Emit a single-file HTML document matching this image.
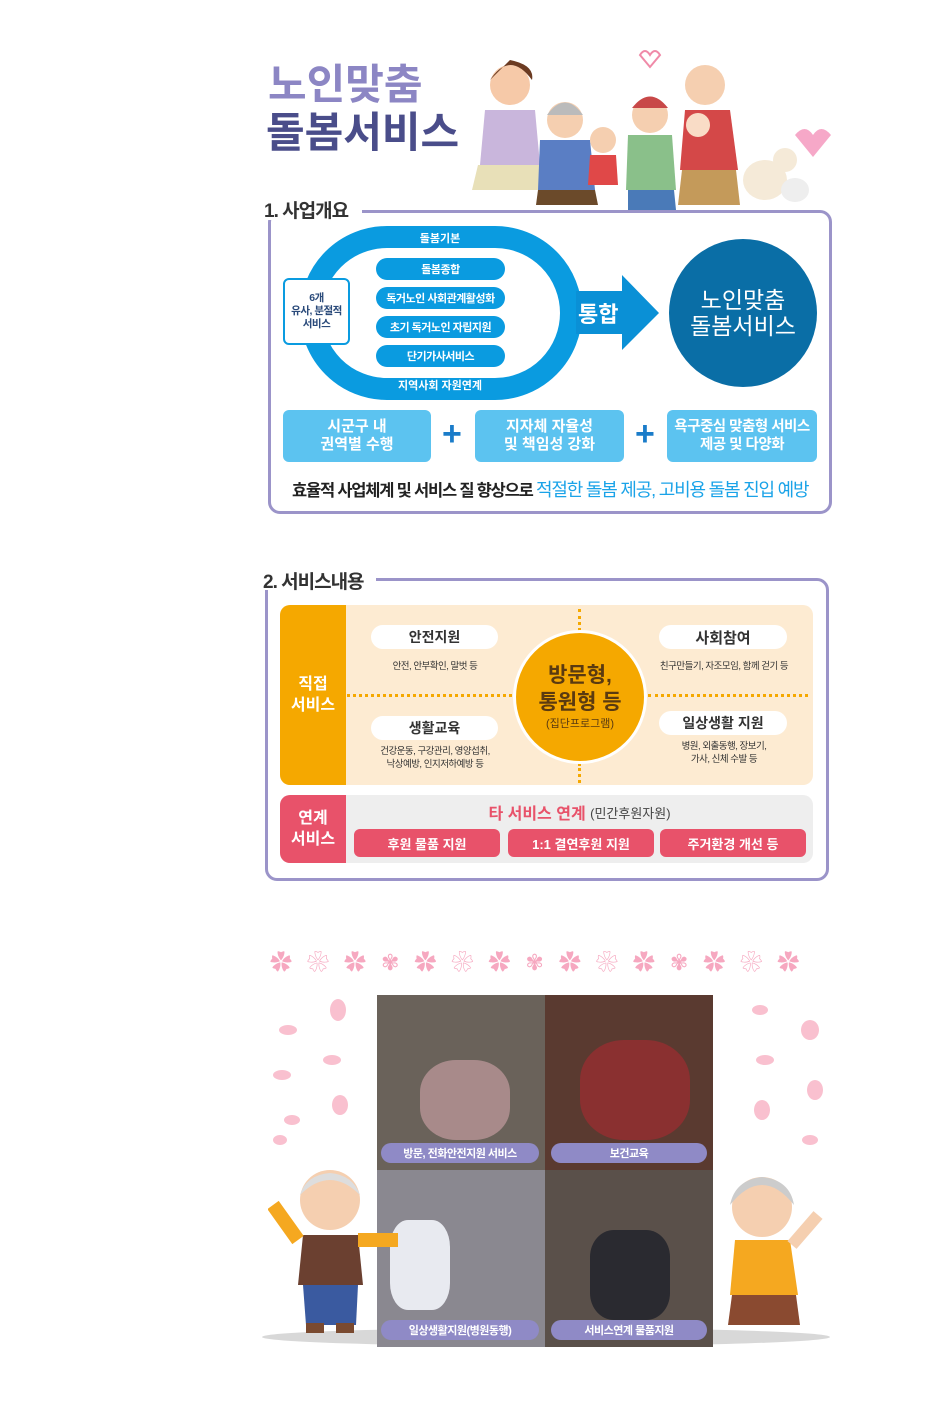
<!DOCTYPE html>
<html><head><meta charset="utf-8"><style>
*{margin:0;padding:0;box-sizing:border-box}
body{width:930px;height:1408px;background:#fff;position:relative;overflow:hidden;font-family:"Liberation Sans","Noto Sans CJK KR",sans-serif}
.a{position:absolute}
.c{display:flex;align-items:center;justify-content:center;text-align:center}
.pill{position:absolute;background:#0a9be0;color:#fff;border-radius:12px;font-size:11px;font-weight:bold;display:flex;align-items:center;justify-content:center;letter-spacing:-0.5px}
.bb{position:absolute;background:#5cc3f0;color:#fff;border-radius:6px;font-size:15px;font-weight:bold;line-height:18px;display:flex;align-items:center;justify-content:center;text-align:center}
.plus{position:absolute;color:#1a7cc9;font-size:34px;font-weight:bold}
.wp{position:absolute;background:#fff;border-radius:12px;font-size:14px;color:#333;font-weight:bold;display:flex;align-items:center;justify-content:center}
.sm{position:absolute;font-size:9.5px;color:#333;text-align:center;line-height:13px;letter-spacing:-0.5px}
.rb{position:absolute;background:#e8526a;color:#fff;border-radius:6px;font-size:13px;font-weight:bold;display:flex;align-items:center;justify-content:center;top:829px;height:28px}
.cap{position:absolute;background:#8f8ac6;color:#fff;border-radius:10px;font-size:11px;font-weight:bold;display:flex;align-items:center;justify-content:center;height:20px;letter-spacing:-0.5px}
</style></head><body>

<!-- header -->
<div class="a" style="left:268px;top:60px;font-size:42px;font-weight:bold;color:#8c86c4;line-height:50px">노인맞춤</div>
<div class="a" style="left:266px;top:108px;font-size:42px;font-weight:bold;color:#4a4d8a;line-height:50px">돌봄서비스</div>
<svg class="a" style="left:440px;top:40px" width="400" height="170">
<circle cx="70" cy="45" r="20" fill="#f6c9a8"/><path d="M50 40 Q70 10 92 40 Q95 25 70 20Z" fill="#6b3b22"/>
<path d="M45 70 L95 70 L100 125 L40 125Z" fill="#c9b6dc"/><path d="M38 125 L102 125 L108 150 L32 150Z" fill="#e8e0b8"/>
<circle cx="125" cy="80" r="18" fill="#f5cfb0"/><path d="M107 75 Q125 50 143 75" fill="#bbb"/>
<path d="M100 100 L150 100 L155 150 L98 150Z" fill="#5a7ec4"/><path d="M98 150 L155 150 L158 165 L96 165Z" fill="#6b4a2a"/>
<circle cx="163" cy="100" r="13" fill="#f5cfb0"/><path d="M150 115 L176 115 L178 145 L148 145Z" fill="#e04848"/>
<circle cx="210" cy="75" r="18" fill="#f5cfb0"/><path d="M192 68 Q210 45 228 68Z" fill="#c84848"/>
<path d="M188 95 L232 95 L236 150 L186 150Z" fill="#8ac08a"/><path d="M188 150 L234 150 L236 170 L188 170Z" fill="#4a7ab8"/>
<circle cx="265" cy="45" r="20" fill="#f5cfb0"/><path d="M245 70 L290 70 L298 130 L240 130Z" fill="#d44848"/>
<path d="M242 130 L296 130 L300 165 L238 165Z" fill="#c49a5a"/><circle cx="258" cy="85" r="12" fill="#f9dcc6"/>
<ellipse cx="325" cy="140" rx="22" ry="20" fill="#f5ead8"/><circle cx="345" cy="120" r="12" fill="#f5ead8"/>
<ellipse cx="355" cy="150" rx="14" ry="12" fill="#eee"/>
<path d="M355 95 q10 -12 18 0 q8 -12 18 0 l-18 22z" fill="#f6a8c8"/>
<path d="M200 15 q5 -8 10 0 q5 -8 10 0 l-10 12z" fill="none" stroke="#f08aa8" stroke-width="2"/>
</svg>

<!-- Section 1 -->
<div class="a" style="left:268px;top:210px;width:564px;height:304px;border:3px solid #9b94c9;border-radius:12px"></div>
<div class="a" style="left:258px;top:196px;width:104px;height:24px;background:#fff"></div>
<div class="a" style="left:264px;top:196px;font-size:19px;font-weight:bold;color:#333;letter-spacing:-1px">1. 사업개요</div>
<div class="a" style="left:300px;top:226px;width:282px;height:174px;border:22px solid #0a9be0;border-radius:87px"></div>
<div class="a c" style="left:380px;top:230px;width:120px;font-size:11px;color:#fff;font-weight:bold">돌봄기본</div>
<div class="a c" style="left:370px;top:377px;width:140px;font-size:11px;color:#fff;font-weight:bold">지역사회 자원연계</div>
<div class="pill" style="left:376px;top:258px;width:129px;height:22px">돌봄종합</div>
<div class="pill" style="left:376px;top:287px;width:129px;height:22px">독거노인 사회관계활성화</div>
<div class="pill" style="left:376px;top:316px;width:129px;height:22px">초기 독거노인 자립지원</div>
<div class="pill" style="left:376px;top:345px;width:129px;height:22px">단기가사서비스</div>
<div class="a c" style="left:283px;top:278px;width:67px;height:67px;background:#fff;border:2.5px solid #0a9be0;border-radius:6px;font-size:10.5px;font-weight:bold;color:#2a4a7a;line-height:13px;letter-spacing:-0.5px">6개<br>유사, 분절적<br>서비스</div>
<svg class="a" style="left:576px;top:275px" width="86" height="76"><path d="M0 16 H46 V0 L83 38 L46 75 V59 H0Z" fill="#0a90d6"/></svg>
<div class="a" style="left:578px;top:297px;font-size:22px;font-weight:bold;color:#fff">통합</div>
<div class="a c" style="left:669px;top:239px;width:148px;height:148px;border-radius:50%;background:#0a6ea6;color:#fff;font-size:23px;line-height:26px">노인맞춤<br>돌봄서비스</div>
<div class="bb" style="left:283px;top:410px;width:148px;height:52px">시군구 내<br>권역별 수행</div>
<div class="plus" style="left:442px;top:415px">+</div>
<div class="bb" style="left:475px;top:410px;width:149px;height:52px">지자체 자율성<br>및 책임성 강화</div>
<div class="plus" style="left:635px;top:415px">+</div>
<div class="bb" style="left:667px;top:410px;width:150px;height:52px;font-size:14.5px;letter-spacing:-0.5px">욕구중심 맞춤형 서비스<br>제공 및 다양화</div>
<div class="a" style="left:292px;top:476px;font-size:16.5px;font-weight:bold;color:#222;letter-spacing:-1.2px;white-space:nowrap">효율적 사업체계 및 서비스 질 향상으로 <span style="color:#1aa3e8;font-weight:normal;font-size:18px">적절한 돌봄 제공, 고비용 돌봄 진입 예방</span></div>

<!-- Section 2 -->
<div class="a" style="left:265px;top:578px;width:564px;height:303px;border:3px solid #9b94c9;border-radius:12px"></div>
<div class="a" style="left:256px;top:566px;width:120px;height:24px;background:#fff"></div>
<div class="a" style="left:263px;top:567px;font-size:19px;font-weight:bold;color:#333;letter-spacing:-1px">2. 서비스내용</div>
<div class="a" style="left:280px;top:605px;width:533px;height:180px;background:#fdebd2;border-radius:10px"></div>
<div class="a c" style="left:280px;top:605px;width:66px;height:180px;background:#f5a800;border-radius:10px 0 0 10px;color:#fff;font-size:16px;font-weight:bold;line-height:21px">직접<br>서비스</div>
<div class="a" style="left:347px;top:694px;width:165px;border-top:3px dotted #f5a800"></div>
<div class="a" style="left:648px;top:694px;width:160px;border-top:3px dotted #f5a800"></div>
<div class="a" style="left:578px;top:609px;height:22px;border-left:3px dotted #f5a800"></div>
<div class="a" style="left:578px;top:763px;height:20px;border-left:3px dotted #f5a800"></div>
<div class="a c" style="left:513px;top:630px;width:134px;height:134px;border-radius:50%;background:#f5a800;border:3px solid #fff;flex-direction:column;color:#5a3a10;font-weight:bold;font-size:21px;line-height:27px">방문형,<br>통원형 등<span style="font-size:11px;font-weight:normal;line-height:16px">(집단프로그램)</span></div>
<div class="wp" style="left:371px;top:625px;width:127px;height:24px">안전지원</div>
<div class="sm" style="left:360px;top:660px;width:150px">안전, 안부확인, 말벗 등</div>
<div class="wp" style="left:659px;top:625px;width:128px;height:24px;font-size:15px">사회참여</div>
<div class="sm" style="left:650px;top:660px;width:148px">친구만들기, 자조모임, 함께 걷기 등</div>
<div class="wp" style="left:371px;top:716px;width:127px;height:24px">생활교육</div>
<div class="sm" style="left:360px;top:745px;width:150px">건강운동, 구강관리, 영양섭취,<br>낙상예방, 인지저하예방 등</div>
<div class="wp" style="left:659px;top:711px;width:128px;height:24px">일상생활 지원</div>
<div class="sm" style="left:650px;top:740px;width:148px">병원, 외출동행, 장보기,<br>가사, 신체 수발 등</div>
<div class="a" style="left:280px;top:795px;width:533px;height:68px;background:#eeeeee;border-radius:10px"></div>
<div class="a c" style="left:280px;top:795px;width:66px;height:68px;background:#e8526a;border-radius:10px 0 0 10px;color:#fff;font-size:16px;font-weight:bold;line-height:21px">연계<br>서비스</div>
<div class="a c" style="left:346px;top:800px;width:467px;font-size:16px;color:#e8526a;font-weight:bold">타 서비스 연계&nbsp;<span style="color:#444;font-size:13px;font-weight:normal">(민간후원자원)</span></div>
<div class="rb" style="left:354px;width:146px">후원 물품 지원</div>
<div class="rb" style="left:508px;width:146px">1:1 결연후원 지원</div>
<div class="rb" style="left:660px;width:146px">주거환경 개선 등</div>

<!-- Bottom -->
<div class="a" style="left:270px;top:945px;width:580px;font-size:22px;color:#f6a8c0;letter-spacing:15px;white-space:nowrap">✿❀✿✾✿❀✿✾✿❀✿✾✿❀✿</div>
<svg class="a" style="left:270px;top:990px" width="570" height="180">
<g fill="#f9c0cf"><ellipse cx="18" cy="40" rx="9" ry="5"/><ellipse cx="12" cy="85" rx="9" ry="5"/><ellipse cx="22" cy="130" rx="8" ry="5"/><ellipse cx="68" cy="20" rx="8" ry="11"/><ellipse cx="62" cy="70" rx="9" ry="5"/><ellipse cx="70" cy="115" rx="8" ry="10"/><ellipse cx="10" cy="150" rx="7" ry="5"/>
<ellipse cx="490" cy="20" rx="8" ry="5"/><ellipse cx="540" cy="40" rx="9" ry="10"/><ellipse cx="495" cy="70" rx="9" ry="5"/><ellipse cx="545" cy="100" rx="8" ry="10"/><ellipse cx="492" cy="120" rx="8" ry="10"/><ellipse cx="540" cy="150" rx="8" ry="5"/></g>
</svg>
<div class="a" style="left:262px;top:1328px;width:568px;height:18px;background:#d8d8d8;border-radius:50%"></div>
<div class="a" style="left:377px;top:995px;width:168px;height:175px;background:#6a625a"></div>
<div class="a" style="left:545px;top:995px;width:168px;height:175px;background:#5a3a30"></div>
<div class="a" style="left:377px;top:1170px;width:168px;height:177px;background:#8a8890"></div>
<div class="a" style="left:545px;top:1170px;width:168px;height:177px;background:#5a504a"></div>
<div class="a" style="left:420px;top:1060px;width:90px;height:80px;background:#a88a8a;border-radius:40%"></div>
<div class="a" style="left:580px;top:1040px;width:110px;height:100px;background:#8a3030;border-radius:40%"></div>
<div class="a" style="left:390px;top:1220px;width:60px;height:90px;background:#e8eaf0;border-radius:30%"></div>
<div class="a" style="left:590px;top:1230px;width:80px;height:90px;background:#2a2a30;border-radius:30%"></div>
<div class="cap" style="left:381px;top:1143px;width:158px">방문, 전화안전지원 서비스</div>
<div class="cap" style="left:551px;top:1143px;width:156px">보건교육</div>
<div class="cap" style="left:381px;top:1320px;width:158px">일상생활지원(병원동행)</div>
<div class="cap" style="left:551px;top:1320px;width:156px">서비스연계 물품지원</div>
<svg class="a" style="left:268px;top:1165px" width="140" height="180">
<circle cx="62" cy="35" r="30" fill="#f5cfb0"/><path d="M32 30 Q62 0 92 30 Q85 10 62 8 Q38 10 32 30Z" fill="#ddd"/>
<path d="M35 70 L90 70 L95 120 L30 120Z" fill="#6b4030"/><path d="M35 120 L90 120 L88 160 L38 160Z" fill="#3a5aa0"/>
<path d="M30 75 L5 40" stroke="#f5a820" stroke-width="14"/><path d="M90 75 L130 75" stroke="#f5a820" stroke-width="14"/>
<rect x="38" y="158" width="18" height="10" fill="#7a4a30"/><rect x="68" y="158" width="18" height="10" fill="#7a4a30"/>
</svg>
<svg class="a" style="left:700px;top:1165px" width="130" height="180">
<circle cx="62" cy="42" r="30" fill="#f5cfb0"/><path d="M30 40 Q62 0 94 40 Q90 15 62 12 Q35 15 30 40Z" fill="#ccc"/>
<path d="M35 75 L90 75 L98 130 L30 130Z" fill="#f5a820"/><path d="M32 130 L96 130 L100 160 L28 160Z" fill="#8a4a30"/>
<path d="M92 80 L118 50" stroke="#f5cfb0" stroke-width="12"/>
</svg>
</body></html>
